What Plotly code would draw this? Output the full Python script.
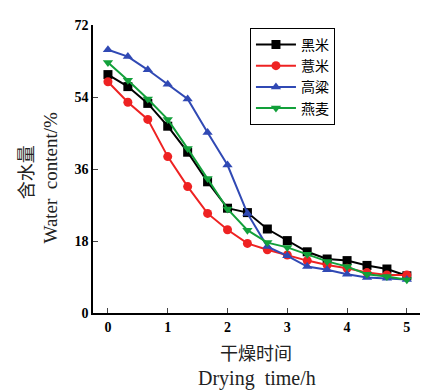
import plotly.graph_objects as go

time_h = [0, 1/3, 2/3, 1, 4/3, 5/3, 2, 7/3, 8/3, 3, 10/3, 11/3, 4, 13/3, 14/3, 5]

heimi = [59.6, 56.6, 52.4, 46.7, 40.2, 32.8, 26.2, 25.1, 21.0, 18.1, 15.3, 13.5, 13.1, 11.9, 11.0, 9.3]
yimi = [57.8, 52.7, 48.4, 39.1, 31.6, 24.9, 20.8, 17.4, 15.8, 14.5, 13.1, 12.0, 11.2, 10.1, 9.5, 9.5]
gaoliang = [65.8, 64.1, 60.8, 57.2, 53.5, 45.1, 37.0, 24.9, 16.6, 14.3, 11.6, 10.8, 9.7, 8.9, 8.7, 8.4]
yanmai = [62.6, 58.2, 53.5, 48.4, 41.1, 33.6, 26.0, 20.7, 17.6, 16.4, 14.7, 12.9, 11.6, 9.7, 9.1, 8.3]

series_names = ["黑米", "薏米", "高粱", "燕麦"]
x_ticks = [0, 1, 2, 3, 4, 5]
y_ticks = [0, 18, 36, 54, 72]

colors = ["#000000", "#ee2222", "#3049b4", "#12a03a"]
symbols = ["square", "circle", "triangle-up", "triangle-down"]
data = [heimi, yimi, gaoliang, yanmai]

fig = go.Figure()
for name, ys, c, s in zip(series_names, data, colors, symbols):
    fig.add_trace(go.Scatter(
        x=time_h, y=ys, name=name, mode="lines+markers",
        line=dict(color=c, width=2),
        marker=dict(symbol=s, size=9, color=c),
    ))

# page body has an 8px margin, so the figure is sized and offset accordingly
fig.update_layout(
    width=422, height=382,
    margin=dict(l=85, r=10, t=17, b=77),
    paper_bgcolor="white", plot_bgcolor="white",
    showlegend=True,
    legend=dict(
        x=0.48, y=0.99, xanchor="left", yanchor="top",
        bordercolor="black", borderwidth=1, bgcolor="white",
        font=dict(family="Noto Sans CJK SC", size=14, color="black"),
        tracegroupgap=0, itemwidth=40,
    ),
    xaxis=dict(
        range=[-0.25, 5.22], tickvals=x_ticks, ticks="inside", ticklen=5,
        showline=True, linecolor="black", linewidth=1.5, showgrid=False,
        zeroline=False, mirror=False,
        tickfont=dict(family="Liberation Serif", size=14, color="black", weight="bold"),
    ),
    yaxis=dict(
        range=[0, 72], tickvals=y_ticks, ticks="inside", ticklen=5,
        showline=True, linecolor="black", linewidth=1.5, showgrid=False,
        zeroline=False, mirror=False,
        tickfont=dict(family="Liberation Serif", size=14, color="black", weight="bold"),
    ),
    font=dict(family="Liberation Serif", color="black"),
)

fig.add_annotation(text="干燥时间", xref="paper", yref="paper", x=0.498, y=-0.137,
                   showarrow=False, font=dict(family="Noto Sans CJK SC", size=18, color="#222"),
                   xanchor="center", yanchor="middle")
fig.add_annotation(text="Drying  time/h", xref="paper", yref="paper", x=0.5, y=-0.226,
                   showarrow=False, font=dict(family="Liberation Serif", size=20, color="#222"),
                   xanchor="center", yanchor="middle")
fig.add_annotation(text="含水量", xref="paper", yref="paper", x=-0.208, y=0.489,
                   showarrow=False, textangle=-90,
                   font=dict(family="Noto Sans CJK SC", size=18, color="#222"),
                   xanchor="center", yanchor="middle")
fig.add_annotation(text="Water  content/%", xref="paper", yref="paper", x=-0.131, y=0.471,
                   showarrow=False, textangle=-90,
                   font=dict(family="Liberation Serif", size=19, color="#222"),
                   xanchor="center", yanchor="middle")

fig.write_html("out.html")
